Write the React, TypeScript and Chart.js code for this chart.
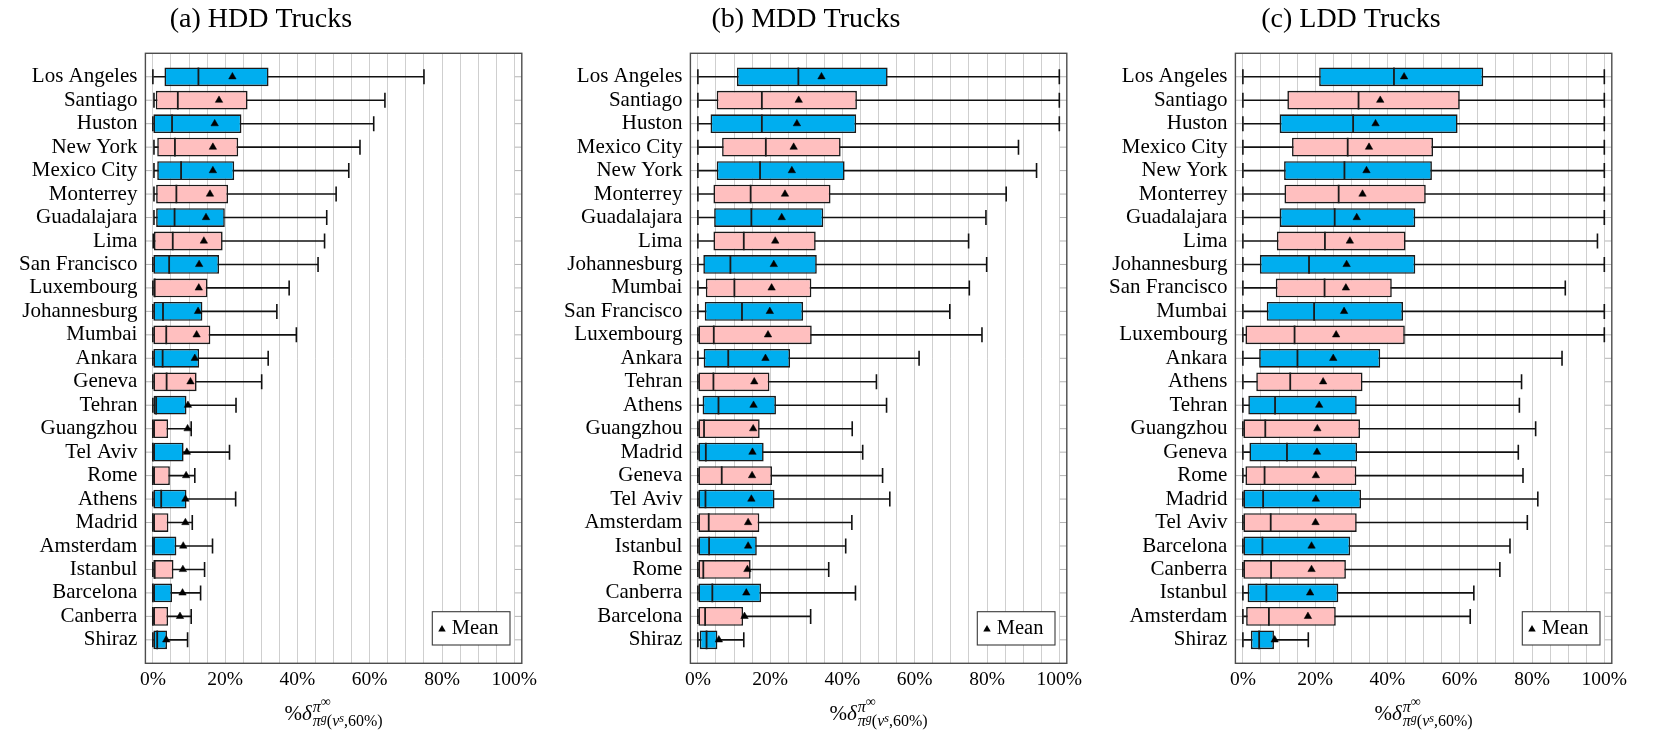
import React, { useEffect, useRef } from 'react';
import { Chart, registerables } from 'chart.js';

Chart.register(...registerables);

const FONT = "'Liberation Serif', 'Times New Roman', serif";
const BLUE = '#00AEEF';
const PINK = '#FFBFBF';

// ---------- (a) HDD Trucks ----------
const hddCities = ['Los Angeles', 'Santiago', 'Huston', 'New York', 'Mexico City', 'Monterrey', 'Guadalajara', 'Lima', 'San Francisco', 'Luxembourg', 'Johannesburg', 'Mumbai', 'Ankara', 'Geneva', 'Tehran', 'Guangzhou', 'Tel Aviv', 'Rome', 'Athens', 'Madrid', 'Amsterdam', 'Istanbul', 'Barcelona', 'Canberra', 'Shiraz'];
const hddLow = [0, 0.3, 0, 0.3, 0.3, 0.3, 0.3, 0.1, 0, 0, 0, 0, 0, 0, 0, 0, 0, 0, 0, 0, 0, 0, 0, 0, 0];
const hddQ1 = [3.2, 0.8, 0, 1.2, 1.2, 0.9, 0.9, 0.3, 0, 0, 0, 0, 0, 0, 0.2, 0, 0, 0, 0, 0, 0, 0, 0, 0, 0];
const hddMedian = [12.6, 6.9, 5.3, 6.1, 7.8, 6.5, 6.0, 5.5, 4.5, 0.5, 2.8, 3.7, 2.7, 3.8, 0.9, 0, 0, 0, 2.3, 0, 0, 0.5, 0, 0, 1.2];
const hddMean = [22.0, 18.3, 17.1, 16.6, 16.6, 15.8, 14.7, 14.1, 12.8, 12.7, 12.5, 12.1, 11.6, 10.4, 9.7, 9.6, 9.4, 9.2, 9.0, 9.0, 8.4, 8.3, 8.2, 7.5, 3.7];
const hddQ3 = [32.0, 26.2, 24.5, 23.6, 22.5, 20.8, 19.9, 19.3, 18.3, 15.1, 13.7, 15.9, 12.8, 12.1, 9.3, 4.2, 8.5, 4.7, 9.3, 4.3, 6.5, 5.7, 5.3, 4.2, 3.9];
const hddHigh = [75.0, 64.2, 61.1, 57.3, 54.2, 50.7, 48.1, 47.5, 45.7, 37.7, 34.3, 39.7, 31.9, 30.1, 23.0, 10.6, 21.2, 11.6, 22.9, 10.9, 16.5, 14.3, 13.2, 10.6, 9.6];

// ---------- (b) MDD Trucks ----------
const mddCities = ['Los Angeles', 'Santiago', 'Huston', 'Mexico City', 'New York', 'Monterrey', 'Guadalajara', 'Lima', 'Johannesburg', 'Mumbai', 'San Francisco', 'Luxembourg', 'Ankara', 'Tehran', 'Athens', 'Guangzhou', 'Madrid', 'Geneva', 'Tel Aviv', 'Amsterdam', 'Istanbul', 'Rome', 'Canberra', 'Barcelona', 'Shiraz'];
const mddLow = [0, 0, 0, 0, 0, 0, 0, 0, 0, 0, 0, 0, 0, 0, 0, 0, 0, 0, 0, 0, 0, 0, 0, 0, 0];
const mddQ1 = [10.8, 5.2, 3.5, 6.7, 5.2, 4.3, 4.5, 4.3, 1.5, 2.2, 1.9, 0, 1.6, 0, 1.3, 0, 0, 0, 0, 0, 0, 0, 0, 0, 0.5];
const mddMedian = [27.8, 17.7, 17.7, 18.8, 17.2, 14.6, 14.8, 12.7, 9.0, 10.1, 12.2, 4.4, 8.4, 4.3, 5.7, 1.7, 2.2, 6.6, 2.1, 3.0, 3.1, 1.5, 4.0, 2.0, 2.4];
const mddMean = [34.2, 27.9, 27.4, 26.5, 26.0, 24.1, 23.2, 21.4, 21.0, 20.4, 19.9, 19.4, 18.7, 15.6, 15.4, 15.3, 15.1, 15.0, 14.8, 13.9, 13.9, 13.7, 13.4, 12.9, 5.8];
const mddQ3 = [52.5, 44.0, 43.8, 39.5, 40.6, 36.7, 34.7, 32.6, 32.9, 31.4, 29.1, 31.5, 25.5, 19.8, 21.6, 17.1, 18.2, 20.5, 21.2, 17.0, 16.3, 14.6, 17.5, 12.5, 5.4];
const mddHigh = [100, 100, 100, 88.7, 93.7, 85.3, 79.7, 74.9, 79.9, 75.1, 69.7, 78.6, 61.2, 49.4, 52.2, 42.7, 45.6, 51.1, 53.1, 42.6, 40.9, 36.2, 43.6, 31.2, 12.7];

// ---------- (c) LDD Trucks ----------
const lddCities = ['Los Angeles', 'Santiago', 'Huston', 'Mexico City', 'New York', 'Monterrey', 'Guadalajara', 'Lima', 'Johannesburg', 'San Francisco', 'Mumbai', 'Luxembourg', 'Ankara', 'Athens', 'Tehran', 'Guangzhou', 'Geneva', 'Rome', 'Madrid', 'Tel Aviv', 'Barcelona', 'Canberra', 'Istanbul', 'Amsterdam', 'Shiraz'];
const lddLow = [0, 0, 0, 0, 0, 0, 0, 0, 0, 0, 0, 0, 0, 0, 0, 0, 0, 0, 0, 0, 0, 0, 0, 0, 0];
const lddQ1 = [21.1, 12.3, 10.2, 13.6, 11.4, 11.5, 10.2, 9.4, 4.7, 9.1, 6.6, 0.7, 4.5, 3.7, 1.5, 0, 1.8, 0.7, 0, 0, 0, 0, 1.3, 0.9, 2.2];
const lddMedian = [41.8, 32.0, 30.5, 29.0, 28.1, 26.5, 25.4, 22.7, 18.3, 22.6, 19.7, 14.3, 15.1, 13.1, 8.9, 6.2, 12.2, 6.0, 5.6, 7.7, 5.4, 7.8, 6.5, 7.2, 4.5];
const lddMean = [44.6, 38.0, 36.7, 34.9, 34.2, 33.1, 31.5, 29.6, 28.7, 28.5, 28.0, 25.8, 25.0, 22.2, 21.1, 20.6, 20.5, 20.2, 20.2, 20.1, 19.0, 19.0, 18.6, 18.0, 8.8];
const lddQ3 = [66.5, 60.0, 59.4, 52.6, 52.3, 50.6, 47.7, 45.0, 47.7, 41.2, 44.3, 44.8, 38.0, 33.1, 31.5, 32.4, 31.6, 31.4, 32.7, 31.5, 29.7, 28.5, 26.4, 25.7, 8.6];
const lddHigh = [100, 100, 100, 100, 100, 100, 100, 98.1, 100, 89.2, 100, 100, 88.3, 77.1, 76.5, 81.0, 76.2, 77.5, 81.6, 78.7, 73.9, 71.1, 63.9, 62.9, 18.1];

const xTickValues = [0, 5, 10, 15, 20, 25, 30, 35, 40, 45, 50, 55, 60, 65, 70, 75, 80, 85, 90, 95, 100];
const xLabelEvery = 20;

// layout constants
const CANVAS_W = 545;
const CANVAS_H = 744;
const Y_AXIS_W = 145.4;
const X_AXIS_H = 80.7;
const RIGHT_PAD = 23.2;

function drawXLabel(ctx: CanvasRenderingContext2D, cx: number, base: number) {
  const f = (s: number, it: boolean) => `${it ? 'italic ' : ''}${s}px ${FONT}`;
  const main = [{ t: '%', s: 21, i: false, dy: 0 }, { t: 'δ', s: 21, i: true, dy: 0 }];
  const sup = [{ t: 'π', s: 16, i: true, dy: -8.5 }, { t: '∞', s: 14, i: false, dy: -14 }];
  const sub = [
    { t: 'π', s: 16, i: true, dy: 6 },
    { t: 'g', s: 12, i: true, dy: 1.5 },
    { t: '(', s: 16, i: false, dy: 6 },
    { t: 'ν', s: 16, i: true, dy: 6 },
    { t: 's', s: 12, i: true, dy: 1.5 },
    { t: ',60%)', s: 16, i: false, dy: 6 },
  ];
  const w = (arr: any[]) => arr.reduce((acc, p) => { ctx.font = f(p.s, p.i); return acc + ctx.measureText(p.t).width; }, 0);
  const total = w(main) + Math.max(w(sup), w(sub)) + 1;
  let x = cx - total / 2;
  ctx.fillStyle = '#000';
  ctx.textBaseline = 'alphabetic';
  ctx.textAlign = 'left';
  const draw = (arr: any[], x0: number) => {
    let xx = x0;
    arr.forEach((p) => { ctx.font = f(p.s, p.i); ctx.fillText(p.t, xx, base + p.dy); xx += ctx.measureText(p.t).width; });
    return xx;
  };
  x = draw(main, x) + 1;
  draw(sup, x);
  draw(sub, x);
}

const decorPlugin = {
  id: 'boxDecor',
  beforeDatasetsDraw(chart: any) {
    const { ctx, chartArea: a, scales } = chart;
    const y = scales.y;
    ctx.save();
    ctx.strokeStyle = '#b5b5b5';
    ctx.lineWidth = 1;
    y.ticks.forEach((t: any) => {
      const py = y.getPixelForValue(t.value);
      ctx.beginPath();
      ctx.moveTo(a.left, py); ctx.lineTo(a.left + 7, py);
      ctx.moveTo(a.right - 7, py); ctx.lineTo(a.right, py);
      ctx.stroke();
    });
    ctx.restore();
  },
  afterDraw(chart: any) {
    const { ctx, chartArea: a } = chart;
    ctx.save();
    // frame
    ctx.strokeStyle = '#4d4d4d';
    ctx.lineWidth = 1.4;
    ctx.strokeRect(a.left, a.top, a.right - a.left, a.bottom - a.top);
    // legend
    const lw = 77.7, lh = 33.3;
    const bx = a.right - 11.8 - lw;
    const by = a.bottom - 18.3 - lh;
    ctx.fillStyle = '#fff';
    ctx.fillRect(bx, by, lw, lh);
    ctx.strokeStyle = '#3a3a3a';
    ctx.lineWidth = 1.1;
    ctx.strokeRect(bx, by, lw, lh);
    const tcx = bx + 9.7, tcy = by + 17.6, r = 4.3;
    ctx.fillStyle = '#000';
    ctx.beginPath();
    ctx.moveTo(tcx, tcy - r);
    ctx.lineTo(tcx + r * Math.sin((2 * Math.PI) / 3), tcy - r * Math.cos((2 * Math.PI) / 3));
    ctx.lineTo(tcx - r * Math.sin((2 * Math.PI) / 3), tcy - r * Math.cos((2 * Math.PI) / 3));
    ctx.closePath();
    ctx.fill();
    const meanDs = chart.data.datasets.find((d: any) => d.label === 'Mean');
    ctx.font = `20.5px ${FONT}`;
    ctx.textBaseline = 'alphabetic';
    ctx.textAlign = 'left';
    ctx.fillText(meanDs ? meanDs.label : 'Mean', bx + 19.4, by + 22.6);
    // x-axis title
    drawXLabel(ctx, (a.left + a.right) / 2, 720);
    ctx.restore();
  },
};

type PanelProps = {
  title: string;
  left: number;
  cities: string[];
  low: number[];
  q1: number[];
  median: number[];
  mean: number[];
  q3: number[];
  high: number[];
};

function BoxPanel(p: PanelProps) {
  const ref = useRef<HTMLCanvasElement>(null);
  useEffect(() => {
    if (!ref.current) return;
    const pos = p.cities.map((_, i) => i + 1);
    const colors = pos.map((v) => (v % 2 === 1 ? BLUE : PINK));
    const caps = [
      ...pos.map((v, i) => ({ x: p.low[i], y: v })),
      ...pos.map((v, i) => ({ x: p.high[i], y: v })),
    ];
    const chart = new Chart(ref.current, {
      type: 'bar',
      data: {
        datasets: [
          {
            type: 'bar',
            label: 'Whisker',
            indexAxis: 'y',
            grouped: false,
            data: pos.map((v, i) => ({ y: v, x: [p.low[i], p.high[i]] })),
            barThickness: 1.6,
            inflateAmount: 0,
            backgroundColor: '#111',
            borderWidth: 0,
            order: 5,
          } as any,
          {
            type: 'scatter',
            label: 'Caps',
            data: caps,
            pointStyle: 'line',
            rotation: 90,
            pointRadius: 7.5,
            borderColor: '#111',
            borderWidth: 1.6,
            order: 4,
          } as any,
          {
            type: 'bar',
            label: 'Box',
            indexAxis: 'y',
            grouped: false,
            data: pos.map((v, i) => ({ y: v, x: [p.q1[i], p.q3[i]] })),
            barPercentage: 0.8,
            categoryPercentage: 1,
            backgroundColor: colors,
            borderColor: '#1a1a1a',
            borderWidth: 1.6,
            borderSkipped: false,
            inflateAmount: 0,
            order: 3,
          } as any,
          {
            type: 'scatter',
            label: 'Median',
            data: pos.map((v, i) => ({ x: p.median[i], y: v })),
            pointStyle: 'line',
            rotation: 90,
            pointRadius: 9.3,
            borderColor: '#1a1a1a',
            borderWidth: 1.8,
            order: 2,
          } as any,
          {
            type: 'scatter',
            label: 'Mean',
            data: pos.map((v, i) => ({ x: p.mean[i], y: v })),
            pointStyle: 'triangle',
            pointRadius: 4.3,
            backgroundColor: '#000',
            borderColor: '#000',
            borderWidth: 0.5,
            order: 1,
          } as any,
        ],
      },
      options: {
        responsive: false,
        animation: false,
        events: [],
        layout: { padding: { left: 0, right: RIGHT_PAD, top: 0, bottom: 0 } },
        plugins: {
          legend: { display: false },
          tooltip: { enabled: false },
          title: {
            display: true,
            text: p.title,
            color: '#000',
            font: { family: FONT, size: 28, weight: 'normal' },
            padding: { top: 2.9, bottom: 16.8 },
          },
        },
        scales: {
          x: {
            type: 'linear',
            position: 'bottom',
            offset: false,
            min: -2.07,
            max: 102.07,
            afterBuildTicks: (s: any) => { s.ticks = xTickValues.map((v) => ({ value: v })); },
            afterFit: (s: any) => { s.height = X_AXIS_H; },
            ticks: {
              autoSkip: false,
              maxRotation: 0,
              padding: 5,
              color: '#000',
              font: { family: FONT, size: 19.5 },
              callback: (v: any) => (Number(v) % xLabelEvery === 0 ? `${v}%` : ''),
            },
            grid: { color: '#cfcfcf', lineWidth: 1, drawTicks: false, offset: false },
            border: { display: false },
          },
          y: {
            type: 'linear',
            position: 'left',
            offset: false,
            reverse: true,
            min: 0,
            max: p.cities.length + 1,
            afterBuildTicks: (s: any) => { s.ticks = pos.map((v) => ({ value: v })); },
            afterFit: (s: any) => { s.width = Y_AXIS_W; },
            ticks: {
              autoSkip: false,
              padding: 8,
              color: '#000',
              font: { family: FONT, size: 21 },
              callback: (v: any) => p.cities[Number(v) - 1] ?? '',
            },
            grid: { display: false, drawTicks: false, offset: false },
            border: { display: false },
          },
        },
      } as any,
      plugins: [decorPlugin],
    });
    return () => chart.destroy();
  }, []);
  return (
    <canvas
      ref={ref}
      width={CANVAS_W}
      height={CANVAS_H}
      style={{ position: 'absolute', left: p.left, top: 0, width: CANVAS_W, height: CANVAS_H }}
    />
  );
}

export default function App() {
  return (
    <div style={{ position: 'absolute', left: 0, top: 0, width: 1662, height: 744, background: '#fff', overflow: 'hidden' }}>
      <BoxPanel title="(a) HDD Trucks" left={0} cities={hddCities} low={hddLow} q1={hddQ1} median={hddMedian} mean={hddMean} q3={hddQ3} high={hddHigh} />
      <BoxPanel title="(b) MDD Trucks" left={545} cities={mddCities} low={mddLow} q1={mddQ1} median={mddMedian} mean={mddMean} q3={mddQ3} high={mddHigh} />
      <BoxPanel title="(c) LDD Trucks" left={1089.5} cities={lddCities} low={lddLow} q1={lddQ1} median={lddMedian} mean={lddMean} q3={lddQ3} high={lddHigh} />
    </div>
  );
}
